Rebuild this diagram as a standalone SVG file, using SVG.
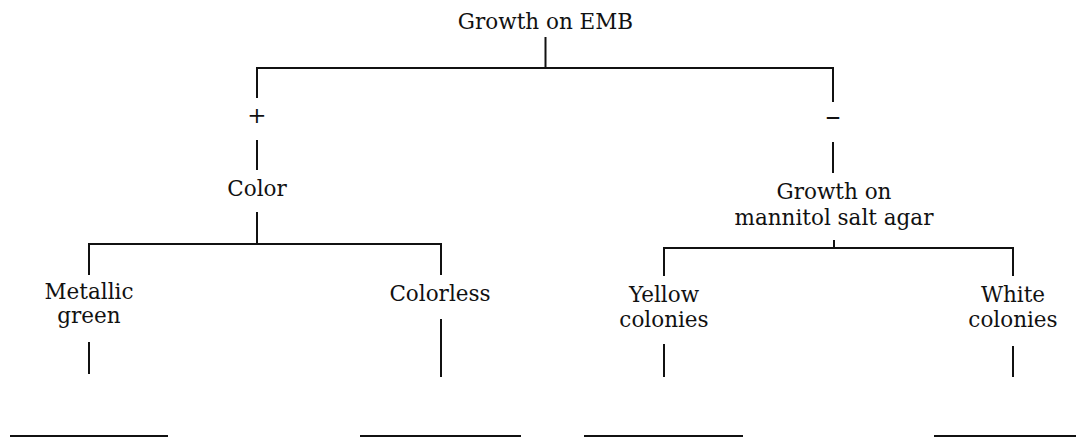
<svg xmlns="http://www.w3.org/2000/svg" width="1082" height="440" viewBox="0 0 1082 440">
  <style>
    .t { font-family: "DejaVu Serif", "Liberation Serif", serif; font-size: 21.5px; fill: #111; text-anchor: middle; }
    .sign { font-family: "DejaVu Serif", "Liberation Serif", serif; fill: #111; text-anchor: middle; }
    .c { stroke: #111; stroke-width: 2; fill: none; stroke-linecap: butt; }
  </style>
  <rect width="1082" height="440" fill="#fff"/>
  <g id="connectors" class="c">
    <path d="M545.5 37V68"/>
    <path d="M257 98V68H833V102"/>
    <path d="M257 140V170"/>
    <path d="M833 142V173"/>
    <path d="M257 212V244"/>
    <path d="M89 275V244H441V275"/>
    <path d="M834 240V248"/>
    <path d="M664 276V248H1013V276"/>
    <path d="M89 342V374"/>
    <path d="M441 319V377"/>
    <path d="M664 344V377"/>
    <path d="M1013 346V377"/>
    <path d="M10 436H168"/>
    <path d="M360 436H521"/>
    <path d="M584 436H743"/>
    <path d="M934 436H1076"/>
  </g>
  <g id="node-emb"><text class="t" x="545.5" y="29">Growth on EMB</text></g>
  <g id="label-plus"><text class="sign" x="257" y="123" font-size="23">+</text></g>
  <g id="label-minus"><text class="sign" x="833" y="126" font-size="30">–</text></g>
  <g id="node-color"><text class="t" x="257" y="196">Color</text></g>
  <g id="node-mannitol">
    <text class="t" x="834" y="199">Growth on</text>
    <text class="t" x="834" y="225">mannitol salt agar</text>
  </g>
  <g id="node-metallic">
    <text class="t" x="89" y="299">Metallic</text>
    <text class="t" x="89" y="323">green</text>
  </g>
  <g id="node-colorless"><text class="t" x="440" y="301">Colorless</text></g>
  <g id="node-yellow">
    <text class="t" x="664" y="302">Yellow</text>
    <text class="t" x="664" y="327">colonies</text>
  </g>
  <g id="node-white">
    <text class="t" x="1013" y="302">White</text>
    <text class="t" x="1013" y="327">colonies</text>
  </g>
</svg>
